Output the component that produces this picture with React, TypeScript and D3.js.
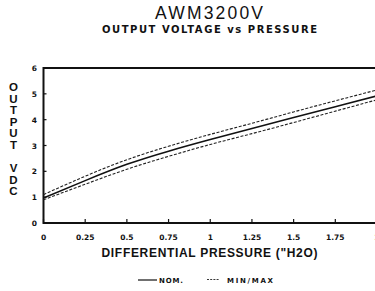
import React from "react";
import * as d3 from "d3";

const pressure = [0, 0.25, 0.5, 0.75, 1, 1.25, 1.5, 1.75, 2];
const nominal = [0.97, 1.64, 2.27, 2.78, 3.23, 3.66, 4.08, 4.5, 4.92];
const maximum = [1.1, 1.81, 2.45, 2.97, 3.43, 3.86, 4.3, 4.73, 5.15];
const minimum = [0.9, 1.5, 2.08, 2.58, 3.04, 3.46, 3.89, 4.33, 4.77];
const xTicks = [0, 0.25, 0.5, 0.75, 1, 1.25, 1.5, 1.75, 2];
const xTickLabels = ["0", "0.25", "0.5", "0.75", "1", "1.25", "1.5", "1.75", "2"];
const yTicks = [0, 1, 2, 3, 4, 5, 6];
const yTitleLetters = ["O", "U", "T", "P", "U", "T", "", "V", "D", "C"];

const W = 375;
const H = 291;
const FONT = "'Liberation Sans', Arial, Helvetica, sans-serif";
const WIDE = "'DejaVu Sans', Verdana, sans-serif";

export default function App() {
  const x = d3.scaleLinear().domain([0, 2]).range([43.5, 377]);
  const y = d3.scaleLinear().domain([0, 6]).range([223, 68]);
  const line = d3
    .line<number>()
    .x((_, i) => x(pressure[i]))
    .y((d) => y(d))
    .curve(d3.curveNatural);

  return (
    <svg
      width={W}
      height={H}
      style={{ position: "absolute", left: 0, top: 0, background: "#fff" }}
      fontFamily={FONT}
    >
      <rect width={W} height={H} fill="#fff" />
      {/* titles */}
      <text x={209} y={19} textAnchor="middle" fontSize={17.5} textLength={108} lengthAdjust="spacing" fill="#111">
        AWM3200V
      </text>
      <text x={209.5} y={33.3} textAnchor="middle" fontSize={10} fontWeight="bold" fontFamily={WIDE} textLength={215} lengthAdjust="spacing" fill="#111">
        OUTPUT VOLTAGE vs PRESSURE
      </text>

      {/* frame */}
      <line x1={x(0)} x2={W} y1={y(6)} y2={y(6)} stroke="#111" strokeWidth={2} />
      <line x1={x(0)} x2={W} y1={y(0)} y2={y(0)} stroke="#111" strokeWidth={2} />
      <line x1={x(0)} x2={x(0)} y1={y(6) - 1} y2={y(0) + 1} stroke="#111" strokeWidth={2} />

      {/* x ticks */}
      {xTicks.map((t, i) => (
        <g key={"xt" + i}>
          <line x1={x(t)} x2={x(t)} y1={y(0)} y2={y(0) - 4} stroke="#111" strokeWidth={1.2} />
          <text x={x(t)} y={240} textAnchor="middle" fontSize={7.5} fontWeight="bold" fontFamily={WIDE} fill="#111">
            {xTickLabels[i]}
          </text>
        </g>
      ))}
      {/* y ticks */}
      {yTicks.map((t) => (
        <g key={"yt" + t}>
          <line x1={x(0)} x2={x(0) + 3} y1={y(t)} y2={y(t)} stroke="#111" strokeWidth={1.2} />
          <text x={37} y={y(t) + 3} textAnchor="end" fontSize={7.5} fontWeight="bold" fontFamily={WIDE} fill="#111">
            {t}
          </text>
        </g>
      ))}

      {/* y title */}
      {yTitleLetters.map((c, i) => (
        <text key={"yl" + i} x={13.5} y={91 + i * 11.6} textAnchor="middle" fontSize={11.5} fontWeight="bold" fill="#111">
          {c}
        </text>
      ))}

      {/* x title */}
      <text x={209.5} y={256.5} textAnchor="middle" fontSize={12} fontWeight="bold" textLength={216} lengthAdjust="spacing" fill="#111">
        DIFFERENTIAL PRESSURE ("H2O)
      </text>

      {/* curves */}
      <path d={line(maximum) || ""} fill="none" stroke="#222" strokeWidth={1.1} strokeDasharray="3,1.6" />
      <path d={line(minimum) || ""} fill="none" stroke="#222" strokeWidth={1.1} strokeDasharray="3,1.6" />
      <path d={line(nominal) || ""} fill="none" stroke="#111" strokeWidth={1.6} />

      {/* legend */}
      <line x1={138} x2={157} y1={280} y2={280} stroke="#111" strokeWidth={1.2} />
      <text x={159} y={283} fontSize={7} fontWeight="bold" fontFamily={WIDE} textLength={24} lengthAdjust="spacing" fill="#111">
        NOM.
      </text>
      <line x1={207} x2={219} y1={279.5} y2={279.5} stroke="#222" strokeWidth={0.9} strokeDasharray="2,1.2" />
      <text x={227} y={283} fontSize={7} fontWeight="bold" fontFamily={WIDE} textLength={46} lengthAdjust="spacing" fill="#111">
        MIN/MAX
      </text>
    </svg>
  );
}
